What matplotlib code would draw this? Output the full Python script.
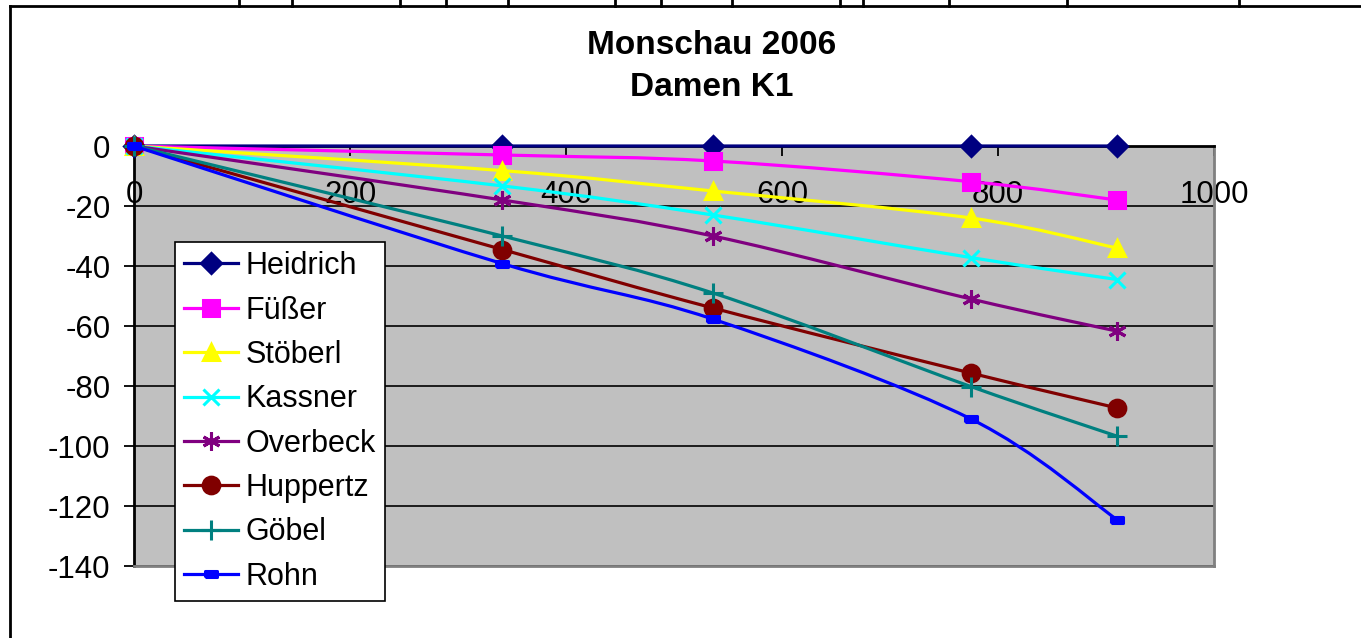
import matplotlib.pyplot as plt
from matplotlib.path import Path
from matplotlib.patches import PathPatch
from matplotlib.lines import Line2D

plt.rcParams['font.family'] = ['Liberation Sans', 'DejaVu Sans']
plt.rcParams['axes.unicode_minus'] = False

# Strecke (x) und Rueckstand (y) je Fahrerin
strecke = [0, 341, 536, 775, 910]

namen = ['Heidrich', 'Füßer', 'Stöberl', 'Kassner', 'Overbeck', 'Huppertz', 'Göbel', 'Rohn']
heidrich = [0, 0, 0, 0, 0]
fuesser = [0, -3, -5, -11.9, -18]
stoeberl = [0, -8.2, -15, -24, -34]
kassner = [0, -13.3, -23, -37.2, -44.5]
overbeck = [0, -18, -30, -51, -61.7]
huppertz = [0, -34.5, -54, -75.7, -87.3]
goebel = [0, -30, -49, -80.2, -96.7]
rohn = [0, -39.2, -57.7, -91, -124.5]

farben = ['#000080', '#FF00FF', '#FFFF00', '#00FFFF', '#800080', '#800000', '#008080', '#0000FF']
rechteck = [(-1, -0.45), (1, -0.45), (1, 0.45), (-1, 0.45), (-1, -0.45)]
marker = ['D', 's', '^', 'x', (6, 2, 0), 'o', '+', rechteck]
msize = [10, 11, 12, 12, 13, 12, 15, 9]


def glatte_kurve(xs, ys):
    # Excel-artige Glaettung (Catmull-Rom als Bezier)
    pts = list(zip(xs, ys))
    n = len(pts)
    verts = [pts[0]]
    codes = [Path.MOVETO]
    for i in range(n - 1):
        p0 = pts[i - 1] if i > 0 else pts[i]
        p1 = pts[i]
        p2 = pts[i + 1]
        p3 = pts[i + 2] if i + 2 < n else pts[i + 1]
        c1 = (p1[0] + (p2[0] - p0[0]) / 6, p1[1] + (p2[1] - p0[1]) / 6)
        c2 = (p2[0] - (p3[0] - p1[0]) / 6, p2[1] - (p3[1] - p1[1]) / 6)
        verts += [c1, c2, p2]
        codes += [Path.CURVE4] * 3
    return Path(verts, codes)


def diagramm():
    reihen = [heidrich, fuesser, stoeberl, kassner, overbeck, huppertz, goebel, rohn]

    fig = plt.figure(figsize=(13.61, 6.38), dpi=100)
    ax = fig.add_axes([134 / 1361, 1 - 566 / 638, 1080 / 1361, 420 / 638])
    ax.set_facecolor('#C0C0C0')

    handles = []
    for i in range(len(namen)):
        ys = reihen[i]
        patch = PathPatch(glatte_kurve(strecke, ys), fill=False, edgecolor=farben[i],
                          lw=2.3, zorder=3 + i, clip_on=False)
        ax.add_patch(patch)
        ax.plot(strecke, ys, ls='none', marker=marker[i], ms=msize[i], color=farben[i],
                mew=2.2, zorder=3 + i, clip_on=False)
        handles.append(Line2D([], [], color=farben[i], lw=2.3, marker=marker[i],
                              ms=msize[i], mew=2.2))

    ax.set_xlim(0, 1000)
    ax.set_ylim(-140, 0)
    ax.set_yticks(range(-140, 1, 20))
    ax.set_xticks(range(0, 1001, 200))
    ax.grid(True, axis='y', color='black', lw=1.2)
    ax.set_axisbelow(True)

    ax.xaxis.set_ticks_position('top')
    ax.tick_params(axis='x', direction='in', length=7, width=1.3, pad=-46, labelsize=22.5)
    ax.tick_params(axis='y', direction='out', length=7, width=1.3, pad=10, labelsize=22.5)

    ax.spines['left'].set_color('black')
    ax.spines['top'].set_color('black')
    ax.spines['right'].set_color('#808080')
    ax.spines['bottom'].set_color('#808080')
    for s in ax.spines.values():
        s.set_linewidth(2)

    fig.text(712 / 1361, 1 - 46 / 638, 'Monschau 2006', ha='center', va='center',
             fontsize=24, fontweight='bold')
    fig.text(712 / 1361, 1 - 88 / 638, 'Damen K1', ha='center', va='center',
             fontsize=24, fontweight='bold')

    leg = fig.legend(handles, namen, loc='upper left',
                     bbox_to_anchor=(175 / 1361, 1 - 242 / 638), fontsize=22,
                     frameon=True, fancybox=False, edgecolor='black', framealpha=1,
                     handlelength=1.75, handletextpad=0.25, labelspacing=0.47,
                     borderpad=0.3, borderaxespad=0)
    leg.get_frame().set_linewidth(1.2)

    # Rahmen der Tabelle oben und links
    fig.add_artist(Line2D([10 / 1361, 1], [1 - 6 / 638, 1 - 6 / 638], color='black', lw=2))
    fig.add_artist(Line2D([10 / 1361, 10 / 1361], [0, 1 - 6 / 638], color='black', lw=2))
    for x in [239, 292, 400, 446, 508, 615, 661, 732, 840, 863, 949, 1067, 1239]:
        fig.add_artist(Line2D([x / 1361, x / 1361], [1 - 6 / 638, 1], color='black', lw=2))

    fig.savefig('out.png', dpi=100)


def main():
    diagramm()


main()
